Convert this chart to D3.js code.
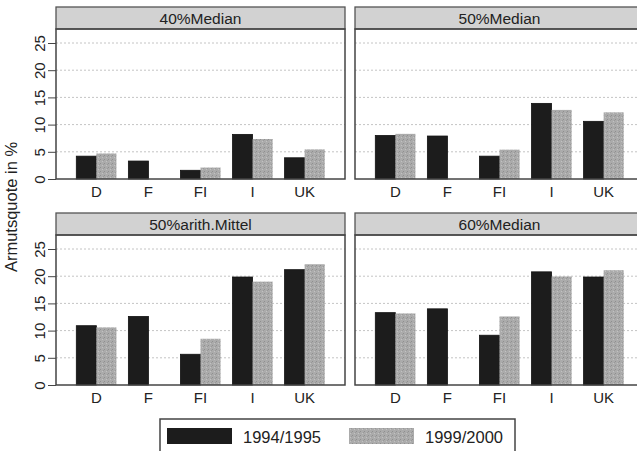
<!DOCTYPE html>
<html lang="de">
<head>
<meta charset="UTF-8">
<title>Armutsquote</title>
<script src="https://d3js.org/d3.v7.min.js"></script>
<style>
  body { margin: 0; background: #fff; }
  text { font-family: "Liberation Sans", Arial, sans-serif; fill: #222; }
</style>
</head>
<body>
<svg width="637" height="451"></svg>
<script>
const countries = ["D", "F", "FI", "I", "UK"];
const series = ["1994/1995", "1999/2000"];
const panelTitles = ["40%Median", "50%Median", "50%arith.Mittel", "60%Median"];
const yTicks = [0, 5, 10, 15, 20, 25];

// values per panel, [1994/1995, 1999/2000] per country; F has no 1999/2000 value
const median40 = [[4.2, 4.7], [3.3, null], [1.6, 2.1], [8.2, 7.35], [3.9, 5.45]];
const median50 = [[8.0, 8.3], [7.9, null], [4.2, 5.4], [13.9, 12.7], [10.6, 12.25]];
const arith50 = [[10.9, 10.6], [12.6, null], [5.65, 8.5], [19.85, 19.0], [21.2, 22.2]];
const median60 = [[13.3, 13.15], [14.0, null], [9.15, 12.6], [20.8, 19.95], [19.85, 21.1]];
const panelValues = [median40, median50, arith50, median60];

const colors = ["#1c1c1c", "#a9a9a9"];

const svg = d3.select("svg");
const defs = svg.append("defs");
// grainy fill like the printed gray
const pat = defs.append("pattern").attr("id", "grain")
  .attr("width", 4).attr("height", 4).attr("patternUnits", "userSpaceOnUse");
pat.append("rect").attr("width", 4).attr("height", 4).attr("fill", "#ababab");
pat.append("rect").attr("x", 0).attr("y", 0).attr("width", 1).attr("height", 1).attr("fill", "#8f8f8f");
pat.append("rect").attr("x", 2).attr("y", 2).attr("width", 1).attr("height", 1).attr("fill", "#c2c2c2");
pat.append("rect").attr("x", 3).attr("y", 1).attr("width", 1).attr("height", 1).attr("fill", "#999");

const panelW = 289, stripH = 22, plotH = 150;
const panels = [
  {x: 56, y: 7}, {x: 355, y: 7},
  {x: 56, y: 213}, {x: 355, y: 213}
];

panels.forEach((p, i) => {
  const g = svg.append("g").attr("transform", `translate(${p.x},${p.y})`);
  const top = stripH, bottom = stripH + plotH;

  const y = d3.scaleLinear().domain([0, 25 * plotH / 136]).range([bottom, top]);
  const x0 = d3.scaleBand().domain(countries).range([0, panelW])
    .paddingInner(0.23).paddingOuter(0.39);
  const x1 = d3.scaleBand().domain(series).range([0, x0.bandwidth()]);

  // strip
  g.append("rect").attr("x", 0).attr("y", 0).attr("width", panelW).attr("height", stripH)
    .attr("fill", "#d2d2d2").attr("stroke", "#555").attr("stroke-width", 1.3);
  g.append("text").attr("x", panelW / 2).attr("y", stripH / 2 + 5.5)
    .attr("text-anchor", "middle").attr("font-size", 15.5).text(panelTitles[i]);

  // gridlines
  g.selectAll(".grid").data(yTicks.filter(t => t > 0)).join("line")
    .attr("x1", 0).attr("x2", panelW)
    .attr("y1", d => y(d)).attr("y2", d => y(d))
    .attr("stroke", "#c4c4c4").attr("stroke-width", 1).attr("stroke-dasharray", "2,2");

  // bars
  const rows = panelValues[i];
  countries.forEach((c, ci) => {
    series.forEach((s, si) => {
      const v = rows[ci][si];
      if (v == null) return;
      g.append("rect")
        .attr("x", x0(c) + x1(s))
        .attr("y", y(v))
        .attr("width", x1.bandwidth())
        .attr("height", y(0) - y(v))
        .attr("fill", si === 0 ? colors[0] : "url(#grain)")
        .attr("stroke", si === 0 ? "#111" : "none")
        .attr("stroke-width", 0.8);
    });
  });

  // frame
  g.append("rect").attr("x", 0).attr("y", top).attr("width", panelW).attr("height", plotH)
    .attr("fill", "none").attr("stroke", "#444").attr("stroke-width", 1.5);

  // x labels
  g.selectAll(".xl").data(countries).join("text")
    .attr("x", d => x0(d) + x0.bandwidth() / 2)
    .attr("y", bottom + 18)
    .attr("text-anchor", "middle").attr("font-size", 15).text(d => d);

  // y axis on left panels
  if (i % 2 === 0) {
    const ax = g.append("g").call(d3.axisLeft(y).tickValues(yTicks).tickSize(8).tickPadding(3));
    ax.select(".domain").remove();
    ax.selectAll("line").attr("stroke", "#444");
    ax.selectAll("text")
      .attr("font-size", 15).attr("fill", "#333")
      .attr("text-anchor", "middle")
      .attr("transform", "translate(-16,0) rotate(-90)")
      .attr("x", 0).attr("y", 0).attr("dy", "0.35em");
  }
});

// y title
svg.append("text")
  .attr("transform", "translate(17,207) rotate(-90)")
  .attr("text-anchor", "middle").attr("font-size", 16.5).attr("fill", "#333")
  .text("Armutsquote in %");

// legend
const lg = svg.append("g").attr("transform", "translate(160,419)");
lg.append("rect").attr("x", 0).attr("y", 0).attr("width", 355).attr("height", 40)
  .attr("fill", "#fff").attr("stroke", "#444").attr("stroke-width", 1.5);
const legX = d3.scalePoint().domain(series).range([7, 189]);
series.forEach((s, si) => {
  lg.append("rect").attr("x", legX(s)).attr("y", 9).attr("width", 65).attr("height", 16)
    .attr("fill", si === 0 ? colors[0] : "url(#grain)");
  lg.append("text").attr("x", legX(s) + 76).attr("y", 24)
    .attr("font-size", 16.5).attr("fill", "#222").text(s);
});
</script>
</body>
</html>
